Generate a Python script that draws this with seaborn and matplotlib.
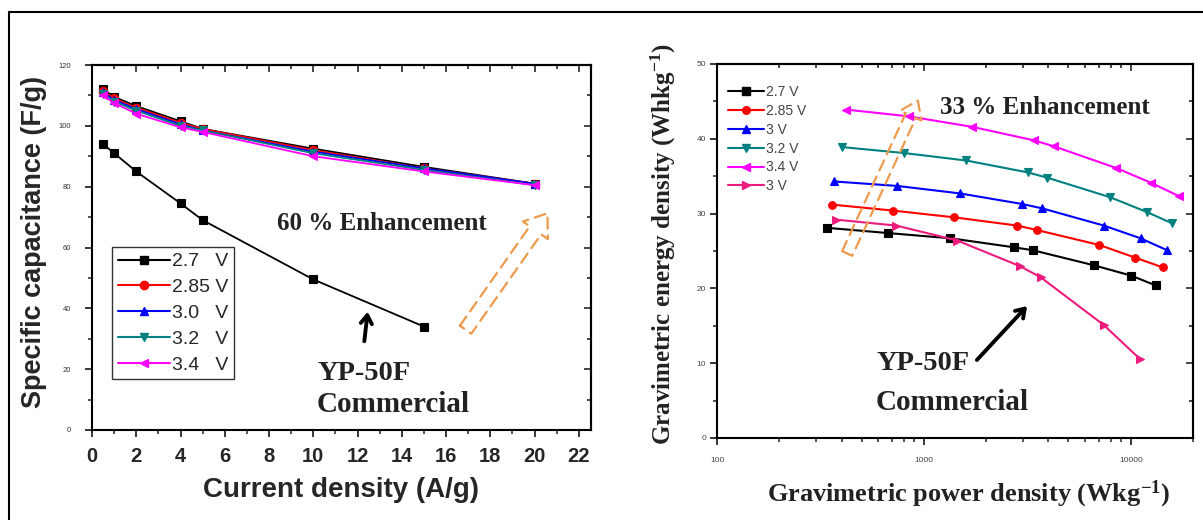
import numpy as np
import pandas as pd
import matplotlib
matplotlib.use("Agg")
import matplotlib.pyplot as plt
import matplotlib.patches as mpatches
from matplotlib.lines import Line2D
from matplotlib.ticker import MultipleLocator, LogLocator, NullFormatter, FixedLocator
import seaborn as sns

# ---------------- data ----------------
# left panel: specific capacitance vs current density
current_new = [0.5, 1, 2, 4, 5, 10, 15, 20]
current_com = [0.5, 1, 2, 4, 5, 10, 15]
cap_27 = [112, 109.5, 106.5, 101.5, 99, 92.5, 86.5, 81]
cap_285 = [111.5, 109, 106, 101, 99, 92, 86, 81]
cap_30 = [111, 108.5, 105.5, 100.5, 98.5, 91.5, 86, 81]
cap_32 = [110.5, 108, 105, 100, 98.5, 91, 85.5, 80.5]
cap_34 = [110, 107.5, 104, 99.5, 98, 90, 85, 80.5]
cap_com = [94, 91, 85, 74.5, 69, 49.5, 34]
left_labels = ["2.7   V", "2.85 V", "3.0   V", "3.2   V", "3.4   V"]

# right panel: Ragone plot
pw_27 = [340, 670, 1345, 2720, 3365, 6620, 10070, 13200]
en_27 = [28.1, 27.4, 26.7, 25.5, 25.1, 23.1, 21.7, 20.4]
pw_285 = [361, 711, 1400, 2826, 3524, 7060, 10540, 14300]
en_285 = [31.2, 30.4, 29.5, 28.4, 27.8, 25.8, 24.1, 22.8]
pw_30 = [367, 743, 1493, 2965, 3733, 7410, 11150, 15000]
en_30 = [34.3, 33.7, 32.7, 31.3, 30.7, 28.4, 26.7, 25.1]
pw_32 = [400, 800, 1600, 3190, 3950, 7930, 12000, 15850]
en_32 = [38.9, 38.1, 37.1, 35.5, 34.8, 32.2, 30.2, 28.7]
pw_34 = [422, 847, 1712, 3397, 4250, 8500, 12580, 17200]
en_34 = [43.9, 43.0, 41.6, 39.8, 39.0, 36.1, 34.1, 32.3]
pw_com = [374, 735, 1450, 2900, 3665, 7410, 11140]
en_com = [29.2, 28.4, 26.4, 23.0, 21.5, 15.1, 10.5]
right_labels = ["2.7 V", "2.85 V", "3 V", "3.2 V", "3.4 V", "3 V"]

# ---------------- style ----------------
sns.set_theme(style="white")
plt.rcParams["font.family"] = ["Liberation Sans", "DejaVu Sans"]
plt.rcParams["axes.linewidth"] = 1.5
plt.rcParams["mathtext.fontset"] = "custom"
plt.rcParams["mathtext.rm"] = "Liberation Serif:bold"
plt.rcParams["mathtext.bf"] = "Liberation Serif:bold"
plt.rcParams["mathtext.it"] = "Liberation Serif:bold"
plt.rcParams["mathtext.default"] = "bf"

W, H = 1203, 520
fig = plt.figure(figsize=(W / 100, H / 100), dpi=100)
fig.patch.set_facecolor("white")


def fx(px):
    return px / W


def fy(py):
    return 1 - py / H


# outer frame lines (top and left)
fig.add_artist(Line2D([fx(9), 1.0], [fy(12), fy(12)], transform=fig.transFigure, color="black", lw=1.5))
fig.add_artist(Line2D([fx(9), fx(9)], [fy(12), 0.0], transform=fig.transFigure, color="black", lw=1.5))

colors = ["black", "#FF0000", "#0000FF", "#008080", "#FF00FF"]
markers = ["s", "o", "^", "v", "<"]
com_color = "#EC1C7C"

# ---------------- left panel ----------------
axL = fig.add_axes([fx(92), fy(430), fx(591) - fx(92), fy(65) - fy(430)])
left_series = [cap_27, cap_285, cap_30, cap_32, cap_34]
handlesL = []
for ys, c, m, lab in zip(left_series, colors, markers, left_labels):
    df = pd.DataFrame({"x": current_new, "y": ys})
    sns.lineplot(data=df, x="x", y="y", ax=axL, color=c, marker=m, markersize=6,
                 markeredgecolor=c, markeredgewidth=0.8, lw=1.3, estimator=None,
                 sort=False, legend=False)
    handlesL.append(Line2D([], [], color=c, marker=m, markersize=6, markeredgecolor=c, lw=1.5))
dfc = pd.DataFrame({"x": current_com, "y": cap_com})
sns.lineplot(data=dfc, x="x", y="y", ax=axL, color="black", marker="s", markersize=6,
             markeredgecolor="black", markeredgewidth=0.8, lw=1.3, estimator=None,
             sort=False, legend=False)

axL.set_xlim(0, 22.55)
axL.set_ylim(0, 120)
axL.xaxis.set_major_locator(MultipleLocator(2))
axL.xaxis.set_minor_locator(MultipleLocator(1))
axL.yaxis.set_major_locator(MultipleLocator(20))
axL.yaxis.set_minor_locator(MultipleLocator(10))
axL.tick_params(axis="both", which="both", direction="out", bottom=True, left=True, top=False, right=False)
axL.tick_params(axis="both", which="major", length=5, width=1.3)
axL.tick_params(axis="both", which="minor", length=3, width=1.1)
axL.tick_params(axis="x", which="major", labelsize=14.5, pad=7)
axL.tick_params(axis="y", which="major", labelsize=5.5, pad=10, labelcolor="#333333")
for t in axL.get_xticklabels():
    t.set_fontweight("bold")
axL.set_xlabel("")
axL.set_ylabel("")
for sp in axL.spines.values():
    sp.set_color("black")
    sp.set_linewidth(1.5)

secLx = axL.secondary_xaxis("top")
secLx.xaxis.set_major_locator(MultipleLocator(2))
secLx.xaxis.set_minor_locator(MultipleLocator(1))
secLx.tick_params(which="both", direction="in", labeltop=False, width=1.2)
secLx.tick_params(which="major", length=5)
secLx.tick_params(which="minor", length=3)
secLy = axL.secondary_yaxis("right")
secLy.yaxis.set_major_locator(MultipleLocator(20))
secLy.yaxis.set_minor_locator(MultipleLocator(10))
secLy.tick_params(which="both", direction="in", labelright=False, width=1.2)
secLy.tick_params(which="major", length=5)
secLy.tick_params(which="minor", length=3)

legL = axL.legend(handlesL, left_labels, loc="upper left",
                  bbox_to_anchor=(fx(112), fy(247)), bbox_transform=fig.transFigure,
                  prop={"family": "Liberation Sans", "size": 14}, frameon=True, fancybox=False,
                  edgecolor="black", handlelength=2.7, handletextpad=0.1, labelspacing=0.42,
                  borderpad=0.3, borderaxespad=0)
legL.get_frame().set_linewidth(1.0)

fig.text(fx(34), fy(242), "Specific capacitance (F/g)", rotation=90, ha="center", va="center",
         fontsize=19.5, fontweight="bold", family="Liberation Sans")
fig.text(fx(341), fy(490), "Current density (A/g)", ha="center", va="center",
         fontsize=20, fontweight="bold", family="Liberation Sans")

serif = ["Liberation Serif", "DejaVu Serif"]
fig.text(fx(382), fy(223), "60 % Enhancement", ha="center", va="center", fontsize=18,
         fontweight="bold", family=serif, color="#222222")
fig.text(fx(317), fy(373), "YP-50F", ha="left", va="center", fontsize=20.5,
         fontweight="bold", family=serif, color="#222222")
fig.text(fx(317), fy(404), "Commercial", ha="left", va="center", fontsize=21,
         fontweight="bold", family=serif, color="#222222")

fig.add_artist(mpatches.FancyArrowPatch((fx(364), fy(344)), (fx(368), fy(309)),
                                        transform=fig.transFigure, arrowstyle="->,head_length=6,head_width=4",
                                        mutation_scale=1, lw=2.8, color="black"))

orange = "#EE9A4D"
fig.add_artist(mpatches.FancyArrowPatch((fx(464), fy(332)), (fx(549), fy(211)),
                                        transform=fig.transFigure,
                                        arrowstyle="simple,head_length=15,head_width=22,tail_width=10",
                                        mutation_scale=1, facecolor="none", edgecolor=orange,
                                        lw=1.6, linestyle=(0, (5, 3))))

# ---------------- right panel ----------------
axR = fig.add_axes([fx(717), fy(438), fx(1193) - fx(717), fy(64) - fy(438)])
right_x = [pw_27, pw_285, pw_30, pw_32, pw_34, pw_com]
right_y = [en_27, en_285, en_30, en_32, en_34, en_com]
r_colors = colors + [com_color]
r_markers = markers + [">"]
handlesR = []
for xs, ys, c, m in zip(right_x, right_y, r_colors, r_markers):
    df = pd.DataFrame({"x": xs, "y": ys})
    sns.lineplot(data=df, x="x", y="y", ax=axR, color=c, marker=m, markersize=5.5,
                 markeredgecolor=c, markeredgewidth=0.8, lw=1.5, estimator=None,
                 sort=False, legend=False)
    handlesR.append(Line2D([], [], color=c, marker=m, markersize=5.5, markeredgecolor=c, lw=1.5))

axR.set_xscale("log")
axR.set_xlim(100, 20000)
axR.set_ylim(0, 50)
axR.yaxis.set_major_locator(MultipleLocator(10))
axR.yaxis.set_minor_locator(MultipleLocator(5))
axR.xaxis.set_major_locator(FixedLocator([100, 1000, 10000]))
axR.xaxis.set_minor_locator(LogLocator(base=10, subs=np.arange(2, 10)))
axR.xaxis.set_minor_formatter(NullFormatter())
axR.set_xticklabels(["100", "1000", "10000"])
axR.tick_params(axis="both", which="both", direction="out", bottom=True, left=True, top=False, right=False)
axR.tick_params(axis="both", which="major", length=5, width=1.3, labelsize=6, labelcolor="#444444")
axR.tick_params(axis="both", which="minor", length=3, width=1.1)
axR.tick_params(axis="x", which="major", pad=9)
axR.tick_params(axis="y", which="major", pad=3)
axR.set_xlabel("")
axR.set_ylabel("")
for sp in axR.spines.values():
    sp.set_color("black")
    sp.set_linewidth(1.5)

secRx = axR.secondary_xaxis("top")
secRx.xaxis.set_major_locator(FixedLocator([100, 1000, 10000]))
secRx.xaxis.set_minor_locator(LogLocator(base=10, subs=np.arange(2, 10)))
secRx.tick_params(which="both", direction="in", labeltop=False, width=1.2)
secRx.tick_params(which="major", length=5)
secRx.tick_params(which="minor", length=3)
secRy = axR.secondary_yaxis("right")
secRy.yaxis.set_major_locator(MultipleLocator(10))
secRy.yaxis.set_minor_locator(MultipleLocator(5))
secRy.tick_params(which="both", direction="in", labelright=False, width=1.2)
secRy.tick_params(which="major", length=5)
secRy.tick_params(which="minor", length=3)

legR = axR.legend(handlesR, right_labels, loc="upper left",
                  bbox_to_anchor=(fx(728), fy(85)), bbox_transform=fig.transFigure,
                  prop={"family": "Liberation Sans", "size": 10}, frameon=False,
                  handlelength=2.6, handletextpad=0.1, labelspacing=0.35, borderpad=0,
                  borderaxespad=0)
for t in legR.get_texts():
    t.set_color("#444444")

fig.text(fx(663), fy(244), "Gravimetric energy density (Whkg$^{-1}$)", rotation=90,
         ha="center", va="center", fontsize=18, fontweight="bold", family=serif, color="#222222")
fig.text(fx(969), fy(494), "Gravimetric power density (Wkg$^{-1}$)",
         ha="center", va="center", fontsize=19, fontweight="bold", family=serif, color="#222222")

fig.text(fx(940), fy(108), "33 % Enhancement", ha="left", va="center", fontsize=18,
         fontweight="bold", family=serif, color="#222222")
fig.text(fx(876), fy(364), "YP-50F", ha="left", va="center", fontsize=20.5,
         fontweight="bold", family=serif, color="#222222")
fig.text(fx(876), fy(403), "Commercial", ha="left", va="center", fontsize=21,
         fontweight="bold", family=serif, color="#222222")

fig.add_artist(mpatches.FancyArrowPatch((fx(975), fy(362)), (fx(1029), fy(304)),
                                        transform=fig.transFigure, arrowstyle="->,head_length=6,head_width=4",
                                        mutation_scale=1, lw=2.8, color="black"))
fig.add_artist(mpatches.FancyArrowPatch((fx(846), fy(256)), (fx(919), fy(98)),
                                        transform=fig.transFigure,
                                        arrowstyle="simple,head_length=12,head_width=17,tail_width=8",
                                        mutation_scale=1, facecolor="none", edgecolor=orange,
                                        lw=1.6, linestyle=(0, (5, 3))))

fig.savefig("out.png", dpi=100)
